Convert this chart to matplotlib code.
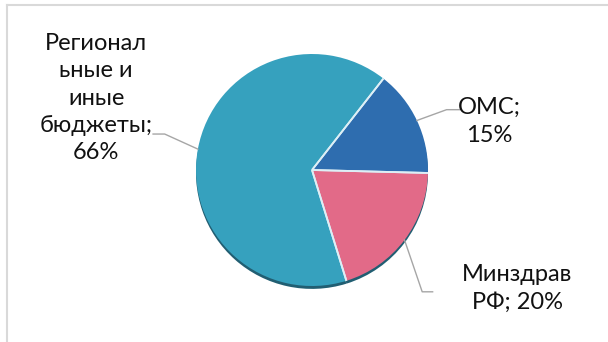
import numpy as np
import matplotlib
matplotlib.use("Agg")
import matplotlib.pyplot as plt

# Data
labels = ["ОМС;\n15%", "Минздрав\nРФ; 20%", "Регионал\nьные и\nиные\nбюджеты;\n66%"]
values = [15, 20, 66]
colors = ["#2E6DAF", "#E26A88", "#36A1BE"]
shade_color = "#215E72"

plt.rcParams["font.family"] = ["Lato", "Open Sans", "DejaVu Sans"]

W, H = 608, 342
fig = plt.figure(figsize=(W / 100, H / 100), dpi=100)
fig.patch.set_facecolor("white")

# pie centre / radius in pixels
cx, cy, r = 312, 172, 116
ax = fig.add_axes([(cx - r) / W, (cy - r) / H, 2 * r / W, 2 * r / H])
ax.axis("off")

start = 52

# shadow rim under the pie
ax.pie(values, colors=[shade_color] * 3, startangle=start, counterclock=False,
       radius=1.0, center=(0, -0.025), wedgeprops=dict(linewidth=0))
wedges, _ = ax.pie(values, colors=colors, startangle=start, counterclock=False,
                   radius=1.0, wedgeprops=dict(linewidth=0))
ax.set_xlim(-1, 1)
ax.set_ylim(-1, 1)

# light separators between slices
for w in wedges:
    for ang in (w.theta1, w.theta2):
        a = np.deg2rad(ang)
        ax.plot([0, np.cos(a)], [0, np.sin(a)], color="#DDEFF6", lw=1.3,
                solid_capstyle="butt")

# label layout: (elbow point, end of horizontal, text position)
layout = [
    ((1.16, 0.52), (1.27, 0.52), (1.53, 0.42)),
    ((0.95, -1.05), (1.04, -1.05), (1.77, -1.02)),
    ((-1.27, 0.31), (-1.37, 0.31), (-1.86, 0.62)),
]
for w, lab, (p1, p2, pt) in zip(wedges, labels, layout):
    mid = np.deg2rad((w.theta1 + w.theta2) / 2)
    x0, y0 = np.cos(mid), np.sin(mid)
    ax.plot([x0, p1[0], p2[0]], [y0, p1[1], p2[1]], color="#A6A6A6", lw=1.0,
            clip_on=False)
    ax.text(pt[0], pt[1], lab, ha="center", va="center", fontsize=17,
            linespacing=1.38, color="#111111", clip_on=False)

# chart frame (cropped: top and left edges visible)
fig.add_artist(plt.Line2D([7 / W, 7 / W], [0, 1 - 5 / H], color="#D9D9D9",
                          lw=1.5, transform=fig.transFigure))
fig.add_artist(plt.Line2D([7 / W, 1], [1 - 5 / H, 1 - 5 / H], color="#D9D9D9",
                          lw=1.5, transform=fig.transFigure))

fig.savefig("out.png", dpi=100, facecolor="white")
